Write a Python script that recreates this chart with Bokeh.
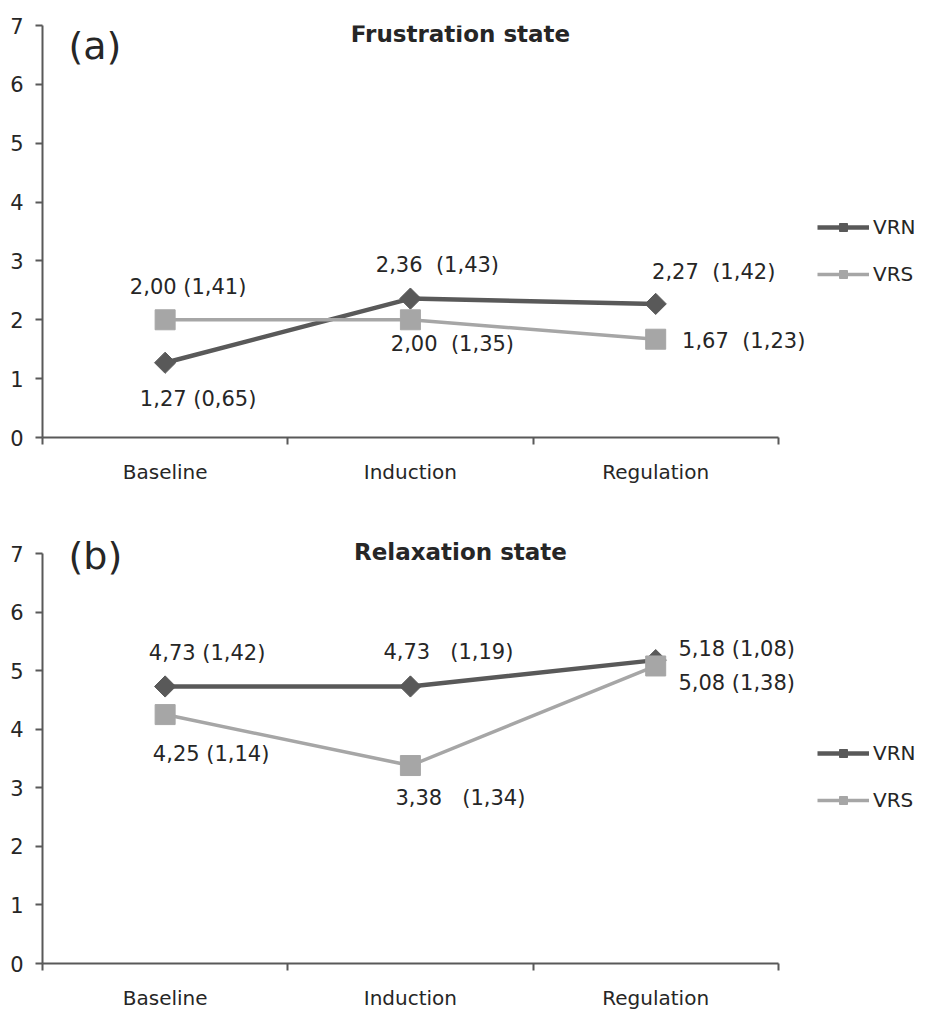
import math
from bokeh.plotting import figure
from bokeh.models import (Range1d, FixedTicker, Label, Legend, LegendItem,
                          ColumnDataSource)
from bokeh.core.properties import value
from bokeh.layouts import column
from bokeh.embed import file_html
from bokeh.resources import INLINE

# ---------------- data ----------------
stages = ["Baseline", "Induction", "Regulation"]
y_ticks = [0, 1, 2, 3, 4, 5, 6, 7]

frus_vrn_mean = [1.27, 2.36, 2.27]
frus_vrn_sd = [0.65, 1.43, 1.42]
frus_vrs_mean = [2.00, 2.00, 1.67]
frus_vrs_sd = [1.41, 1.35, 1.23]

relax_vrn_mean = [4.73, 4.73, 5.18]
relax_vrn_sd = [1.42, 1.19, 1.08]
relax_vrs_mean = [4.25, 3.38, 5.08]
relax_vrs_sd = [1.14, 1.34, 1.38]

# ---------------- styling / layout ----------------
FONT = "DejaVu Sans"
DARK = "#595959"
LIGHT = "#a6a6a6"
TXT = "#262626"
NBSP = "\u00a0"

# label offsets (px) relative to each point, and spaces between mean and sd
frus_vrn_off = [(33, 36), (27, -34), (58, -32)]
frus_vrs_off = [(23, -33), (42, 24), (88, 2)]
frus_vrn_gap = [1, 2, 2]
frus_vrs_gap = [1, 2, 2]
relax_vrn_off = [(42, -33), (38, -34), (81, -11)]
relax_vrs_off = [(46, 39), (50, 32), (81, 17)]
relax_vrn_gap = [1, 3, 1]
relax_vrs_gap = [1, 3, 1]


def fmt(v):
    return f"{v:.2f}".replace(".", ",")


def make_panel(title, tag, vrn, vrn_sd, vrs, vrs_sd, vrn_off, vrs_off,
               vrn_gap, vrs_gap, height, top, bottom, y_end, title_y, tag_y):
    p = figure(width=925, height=height, x_range=Range1d(0, 3.6),
               y_range=Range1d(0, y_end), output_backend="svg",
               toolbar_location=None, min_border_left=42,
               min_border_right=0, min_border_top=top,
               min_border_bottom=bottom)
    p.xgrid.visible = False
    p.ygrid.visible = False
    p.outline_line_color = None
    p.background_fill_color = "white"
    p.border_fill_color = "white"

    xs = [i + 0.5 for i in range(len(stages))]

    xa = p.xaxis[0]
    xa.ticker = FixedTicker(ticks=xs, minor_ticks=list(range(len(stages) + 1)))
    xa.bounds = (0, len(stages))
    xa.major_label_overrides = {x: s for x, s in zip(xs, stages)}
    xa.major_tick_in = 0
    xa.major_tick_out = 0
    xa.minor_tick_in = 0
    xa.minor_tick_out = 7
    xa.minor_tick_line_color = DARK
    xa.minor_tick_line_width = 2
    xa.axis_line_color = DARK
    xa.axis_line_width = 2
    xa.major_label_standoff = 15
    xa.major_label_text_font = FONT
    xa.major_label_text_font_size = "20px"
    xa.major_label_text_color = TXT

    ya = p.yaxis[0]
    ya.ticker = FixedTicker(ticks=y_ticks)
    ya.bounds = (y_ticks[0], y_ticks[-1])
    ya.major_tick_in = 0
    ya.major_tick_out = 7
    ya.major_tick_line_color = DARK
    ya.major_tick_line_width = 2
    ya.minor_tick_line_color = None
    ya.axis_line_color = DARK
    ya.axis_line_width = 2
    ya.major_label_standoff = 12
    ya.major_label_text_font = FONT
    ya.major_label_text_font_size = "21px"
    ya.major_label_text_color = TXT

    l1 = p.line(xs, vrn, line_color=DARK, line_width=4.5)
    s1 = p.scatter(xs, vrn, marker="square", angle=math.pi / 4, size=15,
                   fill_color=DARK, line_color=DARK)
    l2 = p.line(xs, vrs, line_color=LIGHT, line_width=3.5)
    s2 = p.scatter(xs, vrs, marker="square", size=20,
                   fill_color=LIGHT, line_color=LIGHT)

    texts, tx, ty, dx, dy = [], [], [], [], []
    for means, sds, offs, gaps in ((vrn, vrn_sd, vrn_off, vrn_gap),
                                   (vrs, vrs_sd, vrs_off, vrs_gap)):
        for x, m, s, o, g in zip(xs, means, sds, offs, gaps):
            texts.append(fmt(m) + NBSP * g + "(" + fmt(s) + ")")
            tx.append(x)
            ty.append(m)
            dx.append(o[0])
            dy.append(o[1])
    src = ColumnDataSource(dict(x=tx, y=ty, text=texts, dx=dx, dy=dy))
    p.text(x="x", y="y", text="text", x_offset="dx", y_offset="dy",
           source=src, text_font=value(FONT), text_font_size="21px",
           text_color=TXT, text_align="center", text_baseline="middle")

    legend = Legend(items=[LegendItem(label="VRN", renderers=[l1, s1]),
                           LegendItem(label="VRS", renderers=[l2, s2])],
                    location=(775, 151), orientation="vertical",
                    glyph_width=52, glyph_height=20, label_height=20,
                    spacing=23, padding=0, margin=0, label_standoff=4,
                    border_line_color=None, background_fill_alpha=0,
                    label_text_font=FONT, label_text_font_size="20px",
                    label_text_color=TXT)
    p.add_layout(legend)

    p.add_layout(Label(x=418, y=title_y, x_units="screen", y_units="screen",
                       text=title, text_font=FONT, text_font_style="bold",
                       text_font_size="23px", text_color=TXT,
                       text_align="center", text_baseline="middle"))
    p.add_layout(Label(x=26, y=tag_y, x_units="screen", y_units="screen",
                       text=tag, text_font=FONT, text_font_size="38px",
                       text_color=TXT, text_align="left",
                       text_baseline="middle"))
    return p


# panel (a): frame top at the "7" level
pa = make_panel("Frustration state", "(a)", frus_vrn_mean, frus_vrn_sd,
                frus_vrs_mean, frus_vrs_sd, frus_vrn_off, frus_vrs_off,
                frus_vrn_gap, frus_vrs_gap, 500, 25, 63, 7.0, 404, 392)
# panel (b): frame extends above "7" so the title and tag stay visible
pb = make_panel("Relaxation state", "(b)", relax_vrn_mean, relax_vrn_sd,
                relax_vrs_mean, relax_vrs_sd, relax_vrn_off, relax_vrs_off,
                relax_vrn_gap, relax_vrs_gap, 512, 5, 49, 7.82, 412, 408)

layout = column(pa, pb, spacing=0)
open("out.html", "w").write(file_html(layout, INLINE))
